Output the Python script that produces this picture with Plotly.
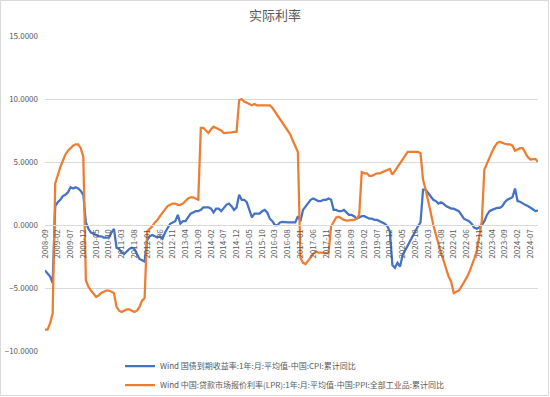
import pandas as pd
import plotly.graph_objects as go

months = list(pd.date_range("2008-09-01", periods=194, freq="MS").strftime("%Y-%m"))
tick_labels = months[::5]

title_text = "实际利率"
name_cpi = "Wind 国债到期收益率:1年:月:平均值-中国:CPI:累计同比"
name_ppi = "Wind 中国:贷款市场报价利率(LPR):1年:月:平均值-中国:PPI:全部工业品:累计同比"

real_rate_cpi = [
    -3.6, -3.9, -4.1, -4.6, 1.5, 1.8, 2.0, 2.3, 2.4, 2.6,
    3.0, 2.9, 3.0, 2.9, 2.7, 2.4, 0.2, -0.3, -0.6, -0.7,
    -0.8, -0.9, -0.9, -1.0, -1.0, -1.0, -0.6, -0.3, -1.8, -1.9,
    -2.2, -2.3, -2.1, -1.9, -1.8, -1.9, -2.3, -2.7, -2.8, -2.9,
    -1.2, -0.9, -0.8, -0.9, -1.0, -0.9, -1.1, -0.6, -0.2, 0.1,
    0.2, 0.3, 0.8, 0.1, 0.3, 0.3, 0.6, 0.9, 1.0, 1.1,
    1.1, 1.2, 1.4, 1.4, 1.4, 1.3, 1.0, 1.3, 1.3, 1.1,
    1.4, 1.6, 1.7, 1.5, 1.2, 1.4, 2.4, 2.0, 2.0, 1.8,
    1.2, 0.6, 0.9, 0.9, 0.9, 1.1, 1.2, 1.0, 0.5, 0.3,
    0.0, 0.0, 0.2, 0.25, 0.2, 0.2, 0.2, 0.2, 0.2, 0.7,
    0.3, 1.2, 1.5, 1.8, 2.0, 2.1, 2.0, 1.9, 1.9, 2.0,
    2.0, 2.1, 2.0, 1.2, 1.2, 1.1, 1.1, 1.2, 1.0, 0.8,
    0.8, 0.7, 0.5, 0.6, 0.7, 0.7, 0.6, 0.5, 0.5, 0.4,
    0.4, 0.3, 0.2, 0.1, -0.1, -0.5, -3.2, -3.4, -3.0, -3.3,
    -2.4, -2.0, -1.6, -1.2, -0.8, -0.4, -0.1, 0.2, 2.8, 2.8,
    2.5, 2.2, 2.0, 1.9, 1.7, 1.8, 1.7, 1.5, 1.4, 1.3,
    1.3, 1.2, 1.1, 0.8, 0.5, 0.4, 0.3, 0.1, -0.2, -0.3,
    -0.2, 0.0, 0.3, 0.8, 1.1, 1.2, 1.3, 1.35, 1.35, 1.5,
    1.8, 2.0, 2.1, 2.2, 2.9, 1.9, 1.85, 1.7, 1.6, 1.5,
    1.4, 1.25, 1.1, 1.15,
]

real_rate_ppi = [
    -8.3, -8.3, -7.8, -7.0, 3.3, 4.0, 4.6, 5.1, 5.6, 5.9,
    6.1, 6.3, 6.4, 6.4, 6.1, 5.4, -4.4, -4.9, -5.2, -5.5,
    -5.7, -5.6, -5.4, -5.3, -5.2, -5.2, -5.3, -5.4, -6.5, -6.8,
    -6.9, -6.8, -6.7, -6.7, -6.8, -6.9, -6.8, -6.5, -6.0, -5.8,
    -0.5, -0.3, -0.1, 0.2, 0.4, 0.7, 1.0, 1.3, 1.5, 1.6,
    1.7, 1.7, 1.6, 1.6, 1.7, 1.9, 2.1, 2.2, 2.2, 2.1,
    2.0, 7.7, 7.7, 7.5, 7.3, 7.6, 7.8, 7.7, 7.6, 7.5,
    7.3, 7.3, 7.3, 7.35, 7.4, 7.4, 9.9, 10.0, 9.8, 9.7,
    9.6, 9.5, 9.6, 9.5, 9.5, 9.5, 9.5, 9.5, 9.5, 9.3,
    9.0, 8.7, 8.4, 8.2, 7.8, 7.5, 7.2, 6.7, 6.2, 5.8,
    -2.6, -3.0, -3.1, -2.8, -2.5, -2.3, -2.1, -2.2, -2.2, -2.2,
    -2.25, -2.25, -0.1, 0.3, 0.6, 0.65, 0.5, 0.4, 0.35, 0.35,
    0.35, 0.4, 0.5, 0.8, 4.2, 4.1, 4.1, 3.9, 3.9, 4.0,
    4.1, 4.1, 4.2, 4.3, 4.4, 4.45, 4.0, 4.3, 4.6, 5.0,
    5.3, 5.6, 5.8, 5.8, 5.8, 5.8, 5.8, 5.7, 3.6, 2.8,
    2.0, 1.0, 0.0, -0.8, -1.5, -2.2, -2.8, -3.4, -4.1, -4.5,
    -5.4, -5.3, -5.2, -4.9, -4.6, -4.2, -3.8, -3.3, -2.7, -2.1,
    -0.9, 0.3, 4.4, 4.9, 5.3, 5.8, 6.2, 6.5, 6.6, 6.5,
    6.45, 6.4, 6.4, 6.3, 5.9, 6.0, 6.1, 6.1, 5.7, 5.4,
    5.2, 5.2, 5.25, 5.0,
]

y_ticks = [-10, -5, 0, 5, 10, 15]

W, H = 550, 397
ml, mr, mt, mb = 45, 12, 36, 46
pw, ph = W - ml - mr, H - mt - mb

fig = go.Figure()
fig.add_trace(go.Scatter(x=months, y=real_rate_cpi, mode="lines", name=name_cpi,
                         line=dict(color="#4472C4", width=2.25)))
fig.add_trace(go.Scatter(x=months, y=real_rate_ppi, mode="lines", name=name_ppi,
                         line=dict(color="#ED7D31", width=2.25)))

zero_pos = (0 - y_ticks[0]) / (y_ticks[-1] - y_ticks[0])

fig.update_layout(
    width=W, height=H,
    margin=dict(l=ml, r=mr, t=mt, b=mb, autoexpand=False),
    paper_bgcolor="white", plot_bgcolor="white",
    font=dict(family="Noto Sans CJK SC, Noto Sans, sans-serif", color="#595959"),
    title=dict(text=title_text, x=0.5, xanchor="center", y=1 - 15 / H, yanchor="middle",
               font=dict(size=13, color="#595959")),
    showlegend=True,
    legend=dict(orientation="v", x=(120 - ml) / pw, xanchor="left",
                y=(-(351.5 - (mt + ph))) / ph, yanchor="top",
                font=dict(size=8, color="#595959"), bgcolor="rgba(0,0,0,0)",
                itemwidth=30, tracegroupgap=0),
    xaxis=dict(type="category", categoryorder="array", categoryarray=months,
               range=[0, len(months) - 1], tickmode="array", tickvals=tick_labels,
               ticktext=tick_labels, tickangle=-90, tickfont=dict(size=8, color="#595959"),
               showgrid=False, showline=True, linecolor="#D9D9D9", linewidth=1,
               anchor="free", position=zero_pos, ticks="", zeroline=False,
               automargin=False),
    yaxis=dict(range=[y_ticks[0], y_ticks[-1]], tickvals=y_ticks, tickformat=".4f",
               tickfont=dict(size=8, color="#595959"), showgrid=True,
               gridcolor="#D9D9D9", gridwidth=1, zeroline=False, showline=False,
               ticks="", ticklabelstandoff=6, automargin=False),
    shapes=[dict(type="rect", xref="paper", yref="paper",
                 x0=-(ml - 0.5) / pw, x1=1 + (mr - 1.5) / pw,
                 y0=-(mb - 1.5) / ph, y1=1 + (mt - 0.5) / ph,
                 line=dict(color="#D9D9D9", width=1), fillcolor="rgba(0,0,0,0)", layer="below")],
)

fig.write_html("out.html", config={"displayModeBar": False},
               post_script="document.body.style.margin='0';")
